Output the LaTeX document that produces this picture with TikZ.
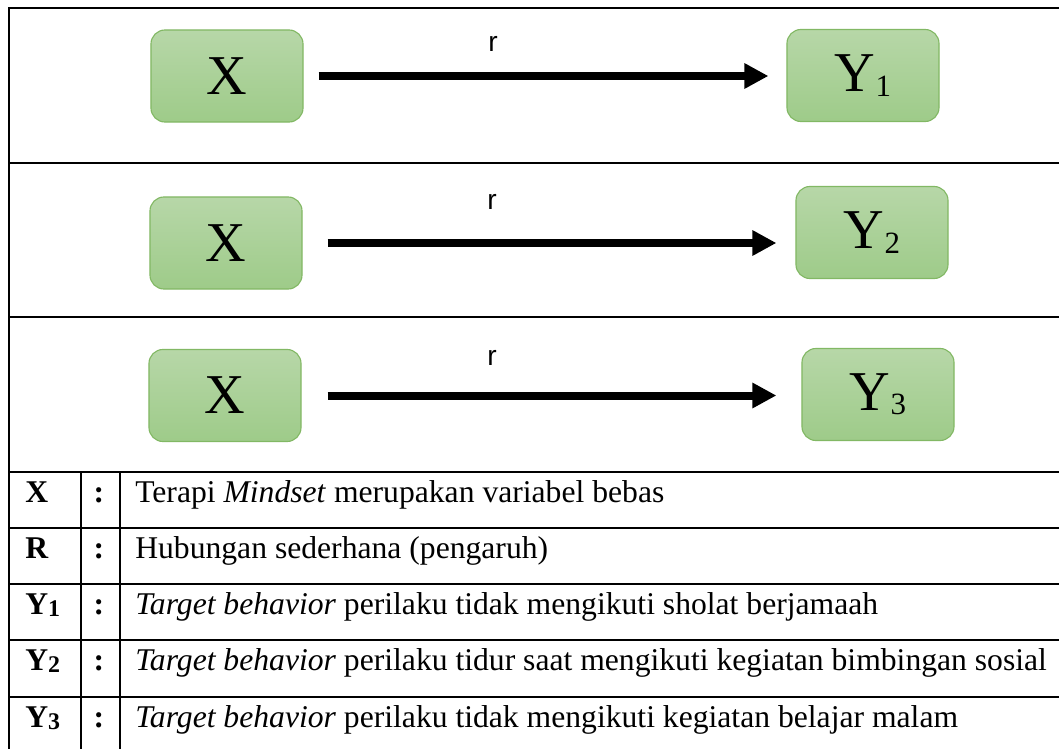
\documentclass[tikz,border=0pt]{standalone}
\usepackage{fontspec}
\setmainfont{Liberation Serif}
\newfontfamily\arial{Liberation Sans}
\usetikzlibrary{arrows.meta}
\definecolor{hijauatas}{RGB}{183,215,168}
\definecolor{hijaubawah}{RGB}{158,203,137}
\definecolor{hijaugaris}{RGB}{130,184,100}
\tikzset{
  varbox/.style={draw=hijaugaris, line width=0.8pt, top color=hijauatas, bottom color=hijaubawah,
    rounded corners=0.35cm, minimum width=3.8cm, minimum height=2.3cm, inner sep=0pt,
    font=\fontsize{40}{40}\selectfont},
  panah/.style={line width=0.2cm, -{Triangle[length=0.6cm,width=0.6cm]}},
  garis/.style={line width=2pt},
  rlabel/.style={anchor=base, inner sep=0pt, font=\arial\fontsize{20}{20}\selectfont},
  ket/.style={anchor=base west, inner sep=0pt, font=\fontsize{22.5}{22.5}\selectfont},
  ketb/.style={ket, font=\fontsize{22.5}{22.5}\selectfont\bfseries},
}
\newcommand{\subbesar}[1]{\raisebox{-3pt}{\fontsize{22}{22}\selectfont #1}}
\newcommand{\subkecil}[1]{\raisebox{-1.5pt}{\fontsize{17}{17}\selectfont #1}}

\begin{document}
\begin{tikzpicture}[x=0.025cm, y=-0.025cm]
    \useasboundingbox (0,0) rectangle (1059,749);

    % 边框
    \draw[garis] (1059,8) -- (9,8) -- (9,749);
    \foreach \y in {163,317,472,528,584,640,697}
        \draw[garis] (9,\y) -- (1059,\y);
    \draw[garis] (81,472) -- (81,749);
    \draw[garis] (120,472) -- (120,749);

    % 变量
    \node[varbox] (x1) at (227,76) {X};
    \node[varbox] (y1) at (863,75.5) {Y\subbesar{1}};
    \node[varbox] (x2) at (226,243) {X};
    \node[varbox] (y2) at (872,232.5) {Y\subbesar{2}};
    \node[varbox] (x3) at (225,395.5) {X};
    \node[varbox] (y3) at (878,394.5) {Y\subbesar{3}};

    % 箭头
    \draw[panah] ([xshift=0.375cm]x1.east) -- ([xshift=-0.45cm]x1.east -| y1.west);
    \draw[panah] ([xshift=0.625cm]x2.east) -- ([xshift=-0.475cm]x2.east -| y2.west);
    \draw[panah] ([xshift=0.65cm]x3.east) -- ([xshift=-0.625cm]x3.east -| y3.west);
    \node[rlabel] (r1) at (493,52) {r};
    \node[rlabel] (r2) at (492,209) {r};
    \node[rlabel] (r3) at (492,365) {r};

    % 说明
    \node[ketb] (lx) at (25,502) {X};
    \node[ketb] (lr) at (25,558) {R};
    \node[ketb] (ly1) at (25,614) {Y\subkecil{1}};
    \node[ketb] (ly2) at (25,670) {Y\subkecil{2}};
    \node[ketb] (ly3) at (25,727) {Y\subkecil{3}};
    \node[ketb, anchor=base] (c1) at (99,502) {:};
    \node[ketb, anchor=base] (c2) at (99,558) {:};
    \node[ketb, anchor=base] (c3) at (99,614) {:};
    \node[ketb, anchor=base] (c4) at (99,670) {:};
    \node[ketb, anchor=base] (c5) at (99,727) {:};
    \node[ket] (t1) at (135,502) {Terapi \textit{Mindset} merupakan variabel bebas};
    \node[ket] (t2) at (135,558) {Hubungan sederhana (pengaruh)};
    \node[ket] (t3) at (135,614) {\textit{Target behavior} perilaku tidak mengikuti sholat berjamaah};
    \node[ket] (t4) at (135,670) {\textit{Target behavior} perilaku tidur saat mengikuti kegiatan bimbingan sosial};
    \node[ket] (t5) at (135,727) {\textit{Target behavior} perilaku tidak mengikuti kegiatan belajar malam};
\end{tikzpicture}
\end{document}
